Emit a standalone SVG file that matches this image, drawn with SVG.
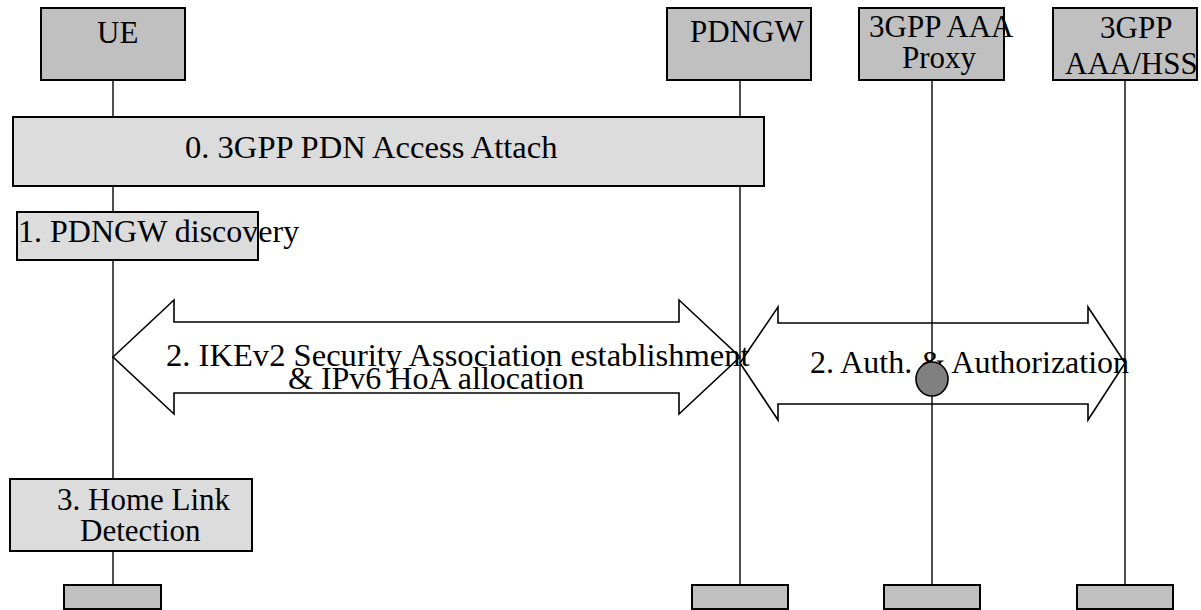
<svg xmlns="http://www.w3.org/2000/svg" width="1201" height="610" viewBox="0 0 1201 610">
<style>
text{font-family:"Liberation Serif","Times New Roman",serif;font-size:31px;fill:#000}
.big{font-size:32.6px}
.mid{font-size:32px}
.node{fill:#c0c0c0;stroke:#000;stroke-width:2}
.step{fill:#dcdcdc;stroke:#000;stroke-width:2}
.life{stroke:#222;stroke-width:1.6;fill:none}
.arrow{fill:none;stroke:#000;stroke-width:1.6;stroke-linejoin:miter}
</style>
<rect width="1201" height="610" fill="#fff"/>
<g id="lifelines">
<line class="life" x1="113" y1="80" x2="113" y2="610"/>
<line class="life" x1="740" y1="80" x2="740" y2="610"/>
<line class="life" x1="932" y1="80" x2="932" y2="610"/>
<line class="life" x1="1125" y1="80" x2="1125" y2="610"/>
</g>
<g id="ue">
<rect class="node" x="41" y="8" width="144" height="72"/>
<text x="97" y="43">UE</text>
<rect class="node" x="64" y="585" width="97" height="24"/>
</g>
<g id="pdngw">
<rect class="node" x="667" y="8" width="144" height="72"/>
<text x="690" y="42">PDNGW</text>
<rect class="node" x="692" y="585" width="96" height="24"/>
</g>
<g id="proxy">
<rect class="node" x="859" y="8" width="145" height="72"/>
<text x="869" y="37">3GPP AAA</text>
<text x="902" y="68">Proxy</text>
<rect class="node" x="884" y="585" width="96" height="24"/>
</g>
<g id="hss">
<rect class="node" x="1053" y="8" width="144" height="72"/>
<text x="1100" y="38">3GPP</text>
<text x="1065" y="74">AAA/HSS</text>
<rect class="node" x="1077" y="585" width="96" height="24"/>
</g>
<g id="step0">
<rect class="step" x="13" y="117" width="751" height="69"/>
<text class="big" x="185" y="158">0. 3GPP PDN Access Attach</text>
</g>
<g id="step1">
<rect class="step" x="17" y="212" width="241" height="48"/>
<text class="mid" x="18" y="242">1. PDNGW discovery</text>
</g>
<g id="step3">
<rect class="step" x="10" y="479" width="242" height="72"/>
<text x="57" y="510">3. Home Link</text>
<text x="80" y="541">Detection</text>
</g>
<g id="connectors">
<g id="ikev2">
<polygon class="arrow" points="113,357 174,300 174,322 679,322 679,300 740,357 679,414 679,393 174,393 174,414"/>
<text class="big" x="166" y="366">2. IKEv2 Security Association establishment</text>
<text class="mid" x="288" y="389">&amp; IPv6 HoA allocation</text>
</g>
<g id="auth">
<polygon class="arrow" points="740,363 778,307 778,323 1088,323 1088,307 1125,363 1088,420 1088,404 778,404 778,420"/>
<text class="mid" x="810" y="373">2. Auth. &amp;  Authorization</text>
<ellipse cx="932" cy="379" rx="16" ry="17" fill="#808080" stroke="#000" stroke-width="1.6"/>
</g>
</g>
</svg>
